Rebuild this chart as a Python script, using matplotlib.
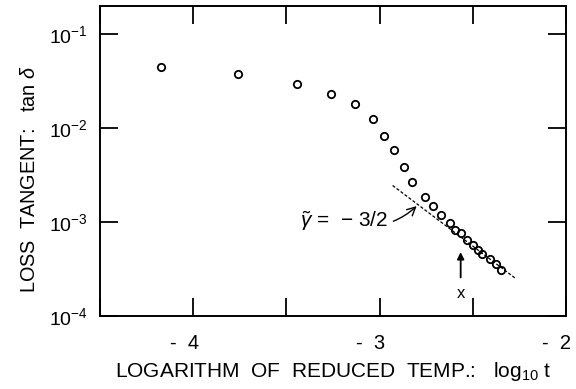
import matplotlib
matplotlib.use("Agg")
import matplotlib.pyplot as plt
import matplotlib.transforms as mtransforms
import numpy as np

# log10 of reduced temperature vs loss tangent
log_t = [-4.175, -3.762, -3.444, -3.258, -3.133, -3.033, -2.974, -2.923,
         -2.871, -2.824, -2.757, -2.714, -2.669, -2.624, -2.594, -2.562,
         -2.532, -2.499, -2.473, -2.449, -2.410, -2.378, -2.347]
tan_delta = [0.0449, 0.0378, 0.0294, 0.0229, 0.0180, 0.01247, 0.00828, 0.00583,
             0.00385, 0.00268, 0.00186, 0.00148, 0.00119, 0.000975, 0.000822, 0.000759,
             0.000644, 0.000569, 0.000504, 0.000457, 0.000404, 0.000357, 0.000308]

# asymptote with exponent -3/2
fit_x = [-2.93, -2.27]
fit_slope = -1.5
fit_x0, fit_logy0 = -2.928, -2.614

x_mark = -2.565

xticks = [-4, -3, -2]
xtick_labels = ['-  4', '-  3', '-  2']
yticks = [1e-4, 1e-3, 1e-2, 1e-1]
ytick_labels = [r'$10^{-4}$', r'$10^{-3}$', r'$10^{-2}$', r'$10^{-1}$']

plt.rcParams['font.family'] = ['Liberation Sans', 'DejaVu Sans']
plt.rcParams['mathtext.fontset'] = 'custom'
plt.rcParams['mathtext.rm'] = 'Liberation Sans'
plt.rcParams['mathtext.it'] = 'Liberation Sans:italic'

fig = plt.figure(figsize=(5.76, 3.89), dpi=100)
ax = fig.add_axes([0.1736, 0.1877, 0.809, 0.797])

ax.plot(log_t, tan_delta, 'o', mfc='none', mec='black', ms=5.3, mew=1.3, ls='none')

fx = np.array(fit_x)
fy = 10 ** (fit_logy0 + fit_slope * (fx - fit_x0))
ax.plot(fx, fy, color='black', lw=0.9, ls=(0, (2.5, 1.5)))

ax.set_yscale('log')
ax.set_xlim(-4.5, -2)
ax.set_ylim(1e-4, 10 ** -0.7)

xt = np.arange(-4.5, -1.99, 0.5)
ax.set_xticks(xt)
ax.set_xticklabels([xtick_labels[xticks.index(v)] if v in xticks else '' for v in xt])
ax.set_yticks(yticks)
ax.set_yticklabels(ytick_labels)
ax.minorticks_off()

ax.tick_params(direction='in', length=13, width=1.3, top=True, right=True)
ax.tick_params(axis='x', pad=13, labelsize=14.5)
ax.tick_params(axis='y', pad=9, labelsize=14)
for s in ax.spines.values():
    s.set_linewidth(1.4)

# shift x tick labels so the digit (not the dash) sits under the tick
shift = mtransforms.ScaledTranslation(-0.09, 0, fig.dpi_scale_trans)
for lab in ax.get_xticklabels():
    lab.set_transform(lab.get_transform() + shift)

ax.set_xlabel(r'LOGARITHM  OF  REDUCED  TEMP.:   log$_{10}$ t', fontsize=15, labelpad=5)
ax.set_ylabel(r'LOSS  TANGENT:   tan $\delta$', fontsize=14.3)
ax.yaxis.set_label_coords(-0.13, 0.44)

ax.annotate(r'$\tilde{\gamma}$ =  $-$ 3/2', xy=(-2.801, 10 ** -2.83),
            xytext=(-2.955, 10 ** -2.99), ha='right', va='center', fontsize=15,
            arrowprops=dict(arrowstyle='->', color='black', lw=1.0,
                            connectionstyle='arc3,rad=0.3', shrinkA=2, shrinkB=0))

ax.annotate('', xy=(x_mark, 10 ** -3.32), xytext=(x_mark, 10 ** -3.59),
            arrowprops=dict(arrowstyle='-|>', color='black', lw=1.3,
                            mutation_scale=10, shrinkA=0, shrinkB=0))
ax.text(x_mark, 10 ** -3.76, 'x', ha='center', va='center', fontsize=12)

fig.savefig('out.png', dpi=100)
